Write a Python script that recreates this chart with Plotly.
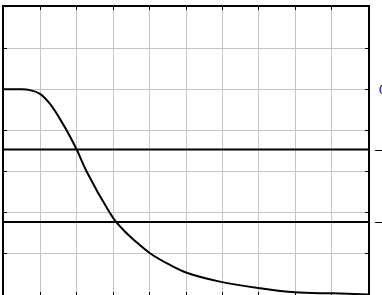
import plotly.graph_objects as go

# Frequency (normalised, 10 grid divisions) and linear gain
freq = [0, 0.44, 0.71, 0.99, 1.26, 1.54, 1.81, 2.0, 2.27, 2.91, 3.08, 3.32, 3.60,
        4.01, 4.56, 5.02, 5.93, 7.03, 7.99, 9.04, 10.0]
gain = [1.0, 1.0, 0.996, 0.978, 0.93, 0.855, 0.772, 0.706, 0.60, 0.399, 0.355, 0.309, 0.263,
        0.203, 0.146, 0.108, 0.065, 0.033, 0.013, 0.008, 0.003]

# Reference levels (-3 dB and -9 dB) and the right-hand labels
ref_levels = [0.707, 0.355]
label_levels = [1.0, 0.707, 0.355]
label_text = ["0 dB", "\u20143 dB", "\u20149 dB"]
label_shift = [10, 6, 6]

x_range = [0, 10]

fig = go.Figure()
for lv in ref_levels:
    fig.add_trace(go.Scatter(x=x_range, y=[lv, lv], mode="lines",
                             line=dict(color="black", width=2),
                             hoverinfo="skip", showlegend=False))
fig.add_trace(go.Scatter(x=freq, y=gain, mode="lines",
                         line=dict(color="black", width=2, shape="spline", smoothing=1.0),
                         showlegend=False))

for lv, tx, sh in zip(label_levels, label_text, label_shift):
    fig.add_annotation(x=1, xref="paper", y=lv, yref="y", text=tx, showarrow=False,
                       xanchor="left", yanchor="middle", xshift=sh, borderpad=0,
                       font=dict(family="Liberation Sans, Arial", size=13, color="black"))

axis_common = dict(showgrid=True, gridcolor="#c4c4c4", gridwidth=1,
                   showline=True, linecolor="black", linewidth=1.5, mirror="ticks",
                   ticks="inside", ticklen=3, tickcolor="black", tickwidth=1,
                   showticklabels=False, zeroline=False)

fig.update_layout(
    width=382, height=295,
    margin=dict(l=4, r=14, t=7, b=0),
    paper_bgcolor="white", plot_bgcolor="white",
    xaxis=dict(range=x_range, dtick=1, **axis_common),
    yaxis=dict(range=[0, 1.4], dtick=0.2, **axis_common),
)

fig.write_html("out.html")
